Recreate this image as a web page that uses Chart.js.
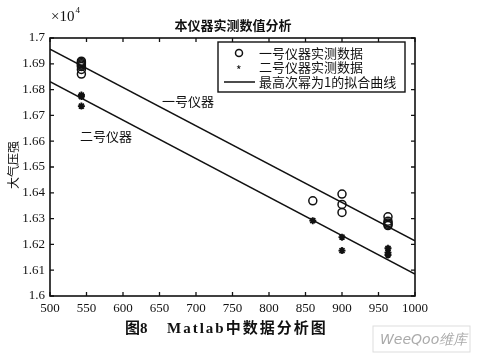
<!DOCTYPE html>
<html><head><meta charset="utf-8">
<script src="https://cdn.jsdelivr.net/npm/chart.js@4/dist/chart.umd.min.js"></script>
<style>html,body{margin:0;padding:0;background:#fff;}#wrap{width:477px;height:356px;position:relative;}</style>
</head><body><div id="wrap"><canvas id="c" width="477" height="356"></canvas></div>
<script>
// Data (values in units of 10^4)
const inst1X = [543, 543, 543, 543, 543, 543, 543, 860, 900, 900, 900, 963, 963, 963, 963, 963];
const inst1Y = [1.6910, 1.6905, 1.6900, 1.6895, 1.6890, 1.6878, 1.6860, 1.6369, 1.6395, 1.6355, 1.6324, 1.6307, 1.6290, 1.6283, 1.6278, 1.6273];
const inst2X = [543, 543, 543, 860, 900, 900, 963, 963, 963];
const inst2Y = [1.6779, 1.6773, 1.6736, 1.6292, 1.6228, 1.6176, 1.6185, 1.6168, 1.6159];
const fit1X = [500, 1000];
const fit1Y = [1.6957, 1.6214];
const fit2X = [500, 1000];
const fit2Y = [1.6831, 1.6085];
const xTicks = [500, 550, 600, 650, 700, 750, 800, 850, 900, 950, 1000];
const yTicks = [1.6, 1.61, 1.62, 1.63, 1.64, 1.65, 1.66, 1.67, 1.68, 1.69, 1.7];
const titleText = '本仪器实测数值分析';
const yLabel = '大气压强';
const legendLabels = ['一号仪器实测数据', '二号仪器实测数据', '最高次幂为1的拟合曲线'];
const annot1 = '一号仪器';
const annot2 = '二号仪器';
const captionNum = '图8';
const captionText = 'Matlab中数据分析图';

const pts = (xs, ys) => xs.map((x, i) => ({x: x, y: ys[i]}));
const SERIF = '"Liberation Serif","DejaVu Serif",serif';
const CJK = '"Noto Sans CJK SC",sans-serif';

const decor = {
  id: 'decor',
  afterDraw(chart) {
    const ctx = chart.ctx, a = chart.chartArea, xs = chart.scales.x, ys = chart.scales.y;
    ctx.save();
    ctx.strokeStyle = '#111'; ctx.lineWidth = 1.6;
    ctx.strokeRect(a.left, a.top, a.right - a.left, a.bottom - a.top);
    ctx.lineWidth = 1.3;
    xTicks.forEach(v => {
      const px = xs.getPixelForValue(v);
      ctx.beginPath(); ctx.moveTo(px, a.bottom); ctx.lineTo(px, a.bottom - 4);
      ctx.moveTo(px, a.top); ctx.lineTo(px, a.top + 4); ctx.stroke();
    });
    yTicks.forEach(v => {
      const py = ys.getPixelForValue(v);
      ctx.beginPath(); ctx.moveTo(a.left, py); ctx.lineTo(a.left + 4, py);
      ctx.moveTo(a.right, py); ctx.lineTo(a.right - 4, py); ctx.stroke();
    });
    ctx.fillStyle = '#111';
    // x10^4
    ctx.font = '15px ' + SERIF; ctx.textAlign = 'left'; ctx.textBaseline = 'alphabetic';
    ctx.fillText('×10', 51, 21);
    const w = ctx.measureText('×10').width;
    ctx.font = '9px ' + SERIF; ctx.fillText('4', 51 + w + 1, 13);
    // title
    ctx.font = 'bold 13px ' + CJK; ctx.textAlign = 'center'; ctx.textBaseline = 'middle';
    ctx.fillText(titleText, 233, 25);
    // y label
    ctx.save(); ctx.translate(13, 165); ctx.rotate(-Math.PI / 2);
    ctx.font = '12px ' + CJK; ctx.fillText(yLabel, 0, 0); ctx.restore();
    // annotations
    ctx.font = '13px ' + CJK;
    ctx.fillText(annot1, 188, 101);
    ctx.fillText(annot2, 106, 136);
    // legend box
    const lx = 218, ly = 42, lw = 187, lh = 50;
    ctx.fillStyle = '#fff'; ctx.fillRect(lx, ly, lw, lh);
    ctx.strokeStyle = '#111'; ctx.lineWidth = 1.4; ctx.strokeRect(lx, ly, lw, lh);
    ctx.fillStyle = '#111';
    const rows = [53, 67.5, 82];
    ctx.lineWidth = 1.5;
    ctx.beginPath(); ctx.arc(239, rows[0], 3.5, 0, Math.PI * 2); ctx.stroke();
    ctx.font = '12px ' + CJK; ctx.textAlign = 'left';
    ctx.fillText('*', 236, rows[1] + 3);
    ctx.beginPath(); ctx.moveTo(224, rows[2]); ctx.lineTo(255, rows[2]); ctx.stroke();
    ctx.font = '13px ' + CJK;
    legendLabels.forEach((t, i) => ctx.fillText(t, 259, rows[i]));
    // caption
    ctx.textAlign = 'left';
    ctx.font = 'bold 15px ' + SERIF + ',' + CJK;
    ctx.fillText(captionNum, 125, 329);
    ctx.letterSpacing = '2px';
    ctx.fillText(captionText, 167, 329);
    ctx.letterSpacing = '0px';
    // watermark box
    ctx.strokeStyle = '#ddd'; ctx.lineWidth = 1; ctx.strokeRect(373, 326, 97, 26);
    ctx.fillStyle = '#aaa'; ctx.font = 'italic 14px "DejaVu Sans",sans-serif';
    ctx.fillText('WeeQoo维库', 380, 340);
    ctx.restore();
  }
};

new Chart(document.getElementById('c'), {
  type: 'scatter',
  data: {
    datasets: [
      {label: 'inst1', data: pts(inst1X, inst1Y), pointStyle: 'circle', radius: 4, borderColor: '#111', backgroundColor: 'rgba(0,0,0,0)', borderWidth: 1.5},
      {label: 'inst2', data: pts(inst2X, inst2Y), pointStyle: 'star', radius: 3.5, borderColor: '#111', backgroundColor: '#111', borderWidth: 1.8},
      {type: 'line', label: 'fit1', data: pts(fit1X, fit1Y), showLine: true, borderColor: '#111', borderWidth: 1.6, pointRadius: 0, fill: false},
      {type: 'line', label: 'fit2', data: pts(fit2X, fit2Y), showLine: true, borderColor: '#111', borderWidth: 1.6, pointRadius: 0, fill: false}
    ]
  },
  options: {
    responsive: false, animation: false, devicePixelRatio: 1,
    layout: {padding: {left: 0, right: 62, top: 38, bottom: 40}},
    plugins: {legend: {display: false}, tooltip: {enabled: false}},
    scales: {
      x: {type: 'linear', min: 500, max: 1000,
        afterBuildTicks: s => { s.ticks = xTicks.map(v => ({value: v})); },
        afterFit: s => { s.height = 20; },
        grid: {display: false, drawTicks: false}, border: {display: false},
        ticks: {color: '#111', font: {family: SERIF, size: 13}, padding: 5, maxRotation: 0, autoSkip: false,
          callback: v => String(v)}},
      y: {type: 'linear', min: 1.6, max: 1.7,
        afterBuildTicks: s => { s.ticks = yTicks.map(v => ({value: v})); },
        afterFit: s => { s.width = 50; },
        grid: {display: false, drawTicks: false}, border: {display: false},
        ticks: {color: '#111', font: {family: SERIF, size: 13}, padding: 5, autoSkip: false,
          callback: v => String(Number(v.toFixed(2)))}}
    }
  },
  plugins: [decor]
});
</script></body></html>
